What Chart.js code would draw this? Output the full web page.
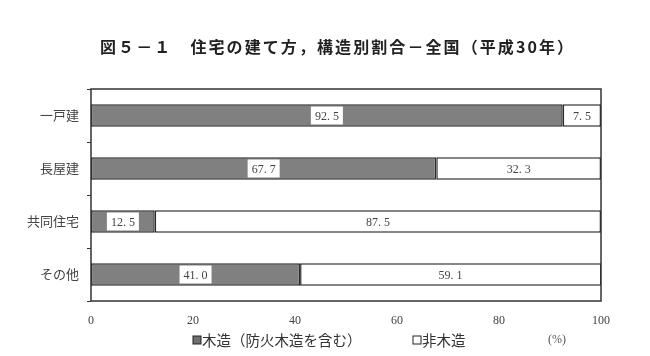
<!DOCTYPE html>
<html><head><meta charset="utf-8">
<script src="https://cdn.jsdelivr.net/npm/chart.js@4/dist/chart.umd.min.js"></script>
<style>html,body{margin:0;padding:0;background:#fff}#w{width:650px;height:356px}</style>
</head><body><div id="w"><canvas id="c"></canvas></div>
<script>
const titleText = "図５－１　住宅の建て方，構造別割合－全国（平成30年）";
const categories = ["一戸建", "長屋建", "共同住宅", "その他"];
const woodLabel = "木造（防火木造を含む）";
const nonWoodLabel = "非木造";
const woodValues = [92.5, 67.7, 12.5, 41.0];
const nonWoodValues = [7.5, 32.3, 87.5, 59.1];
const xTicks = [0, 20, 40, 60, 80, 100];
const unitLabel = "(%)";

const serif = '"Liberation Serif","DejaVu Serif",serif';
const sans = '"Noto Sans CJK JP","Noto Sans",sans-serif';

const extras = {
  id: 'extras',
  afterDraw(chart) {
    const ctx = chart.ctx, a = chart.chartArea;
    ctx.save();
    // title, spread to span the same width as the reference
    ctx.font = 'bold 16px ' + sans;
    ctx.fillStyle = '#222';
    ctx.textAlign = 'left'; ctx.textBaseline = 'middle';
    const tw = ctx.measureText(titleText).width;
    const n = [...titleText].length;
    const sp = Math.max(0, (473 - tw) / (n - 1));
    ctx.letterSpacing = sp + 'px';
    ctx.fillText(titleText, 100, 47);
    ctx.letterSpacing = '0px';
    // plot border
    ctx.strokeStyle = '#333'; ctx.lineWidth = 1.5;
    ctx.strokeRect(a.left, a.top, a.right - a.left, a.bottom - a.top);
    // value labels
    ctx.font = '12px ' + serif;
    ctx.textAlign = 'center';
    chart.data.datasets.forEach((ds, di) => {
      const meta = chart.getDatasetMeta(di);
      meta.data.forEach((bar, i) => {
        const v = ds.data[i];
        const txt = v.toFixed(1).replace('.', '. ');
        const left = Math.min(bar.base, bar.x), right = Math.min(Math.max(bar.base, bar.x), a.right);
        const cx = (left + right) / 2, cy = bar.y;
        const w = ctx.measureText(txt).width + 8;
        ctx.fillStyle = '#fff';
        ctx.fillRect(cx - w / 2, cy - 9, w, 18);
        ctx.fillStyle = '#444';
        ctx.fillText(txt, cx, cy + 1);
      });
    });
    // legend
    const ly = 340;
    ctx.font = '14.5px ' + sans;
    ctx.textAlign = 'left';
    ctx.lineWidth = 1;
    ctx.fillStyle = '#707070'; ctx.fillRect(193, ly - 4, 8, 8);
    ctx.strokeStyle = '#222'; ctx.strokeRect(193, ly - 4, 8, 8);
    ctx.fillStyle = '#333'; ctx.fillText(woodLabel, 202, ly);
    ctx.fillStyle = '#fff'; ctx.fillRect(413, ly - 4, 8, 8);
    ctx.strokeStyle = '#222'; ctx.strokeRect(413, ly - 4, 8, 8);
    ctx.fillStyle = '#333'; ctx.fillText(nonWoodLabel, 422, ly);
    ctx.font = '12px ' + serif;
    ctx.fillStyle = '#555';
    ctx.fillText(unitLabel, 548, ly);
    ctx.restore();
  }
};

new Chart(document.getElementById('c'), {
  type: 'bar',
  data: {
    labels: categories,
    datasets: [
      { label: woodLabel, data: woodValues, backgroundColor: '#808080', borderColor: '#2a2a2a', borderWidth: 1.5, borderSkipped: false, barPercentage: 0.42, categoryPercentage: 1 },
      { label: nonWoodLabel, data: nonWoodValues, backgroundColor: '#ffffff', borderColor: '#2a2a2a', borderWidth: 1.5, borderSkipped: false, barPercentage: 0.42, categoryPercentage: 1 }
    ]
  },
  options: {
    indexAxis: 'y',
    responsive: true, maintainAspectRatio: false, animation: false,
    layout: { padding: { top: 89, left: 0, right: 49, bottom: 0 } },
    plugins: { legend: { display: false }, tooltip: { enabled: false } },
    scales: {
      x: {
        stacked: true, min: 0, max: 100,
        afterBuildTicks: s => { s.ticks = xTicks.map(v => ({ value: v })); },
        afterFit: s => { s.height = 55; },
        grid: { display: false, drawTicks: false },
        border: { display: false },
        ticks: { font: { family: serif, size: 12 }, color: '#4a4040', padding: 13, maxRotation: 0 }
      },
      y: {
        stacked: true,
        afterFit: s => { s.width = 91; },
        grid: { drawOnChartArea: false, tickLength: 4, color: '#333', offset: true },
        border: { display: false },
        ticks: { font: { family: sans, size: 13 }, color: '#444', padding: 8 }
      }
    }
  },
  plugins: [extras]
});
</script></body></html>
